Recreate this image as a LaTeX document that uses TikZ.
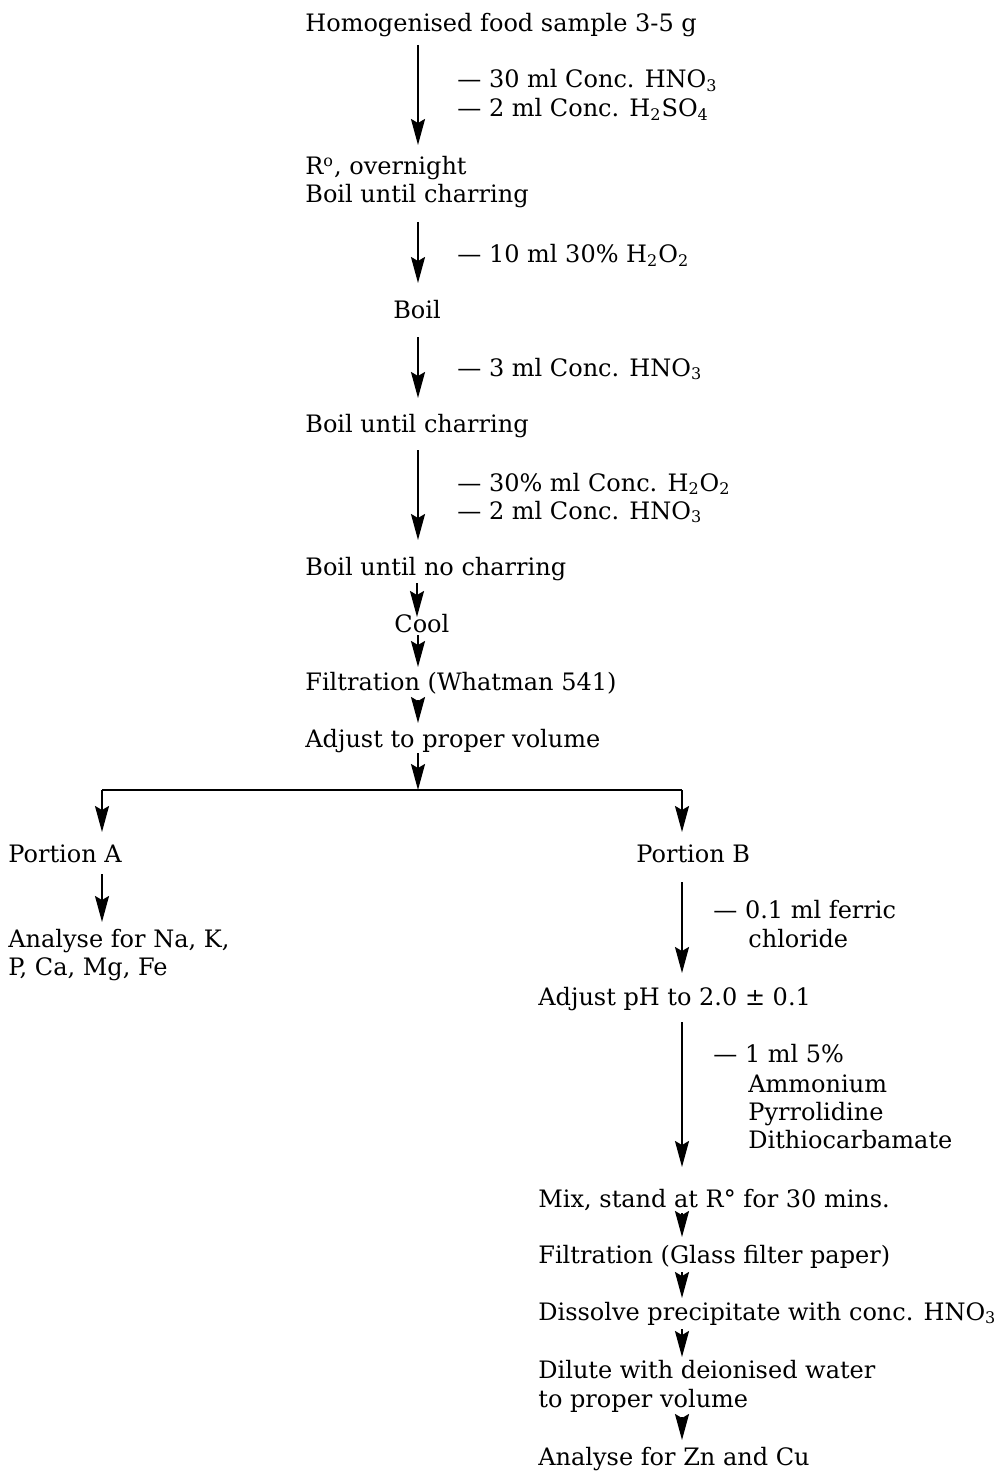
\documentclass[tikz,border=0pt]{standalone}
\usepackage{fontspec}
\setmainfont{DejaVu Serif}
\usetikzlibrary{arrows.meta,calc}

\tikzset{
  txt/.style={font=\fontsize{12}{14.3}\selectfont, inner sep=0pt, anchor=base west},
  ctxt/.style={txt, anchor=base},
  flow/.style={line width=1pt, -{Stealth[length=13pt,width=7pt,inset=2pt]}},
  plain/.style={line width=1.2pt},
}

\begin{document}
\begin{tikzpicture}[x=0.5pt,y=-0.5pt]
\useasboundingbox (0,0) rectangle (1000,1471);

% spines of the two columns
\coordinate (spine) at (418,0);
\coordinate (spineB) at (682,0);

% ---- digestion steps
\node[txt] (s1) at (305,32) {Homogenised food sample 3-5 g};
\node[txt] (l1a) at (457,88) {— 30 ml Conc. HNO\textsubscript{3}};
\node[txt] (l1b) at (457,117) {— 2 ml Conc. H\textsubscript{2}SO\textsubscript{4}};
\node[txt] (s2a) at (305,175) {R\textsuperscript{o}, overnight};
\node[txt] (s2b) at (305,203) {Boil until charring};
\node[txt] (l2) at (457,263) {— 10 ml 30\% H\textsubscript{2}O\textsubscript{2}};
\node[ctxt] (s3) at (417,318) {Boil};
\node[txt] (l3) at (457,376) {— 3 ml Conc. HNO\textsubscript{3}};
\node[txt] (s4) at (305,432) {Boil until charring};
\node[txt] (l4a) at (457,491) {— 30\% ml Conc. H\textsubscript{2}O\textsubscript{2}};
\node[txt] (l4b) at (457,519) {— 2 ml Conc. HNO\textsubscript{3}};
\node[txt] (s5) at (305,575) {Boil until no charring};
\node[txt] (s6) at (394,632) {Cool};
\node[txt] (s7) at (305,690) {Filtration (Whatman 541)};
\node[txt] (s8) at (305,747) {Adjust to proper volume};

\draw[flow] ($(s1.base -| spine)+(0,13)$) -- ($(s2a.base -| spine)+(0,-30)$);
\draw[flow] ($(s2b.base -| spine)+(0,19)$) -- ($(s3.base -| spine)+(0,-35)$);
\draw[flow] ($(s3.base -| spine)+(0,19)$) -- ($(s4.base -| spine)+(0,-34)$);
\draw[flow] ($(s4.base -| spine)+(0,18)$) -- ($(s5.base -| spine)+(0,-35)$);
\draw[flow] ($(s5.base -| spine)+(-1,8)$) -- ($(s6.base -| spine)+(-1,-15)$);
\draw[flow] ($(s6.base -| spine)+(0,3)$) -- ($(s7.base -| spine)+(0,-23)$);
\draw[flow] ($(s7.base -| spine)+(0,10)$) -- ($(s8.base -| spine)+(0,-24)$);

% ---- split into two portions
\coordinate (fork) at (418,790);
\coordinate (brA) at (102,790);
\coordinate (brB) at (682,790);
\draw[flow] ($(s8.base -| fork)+(0,6)$) -- (fork);
\draw[plain] (brA) -- (brB);

\node[txt] (pa) at (8,862) {Portion A};
\node[txt] (pb) at (636,862) {Portion B};
\draw[flow] (brA) -- ($(pa.base -| brA)+(0,-30)$);
\draw[flow] (brB) -- ($(pb.base -| brB)+(0,-30)$);

% ---- portion A
\node[txt] (aa1) at (8,947) {Analyse for Na, K,};
\node[txt] (aa2) at (8,975) {P, Ca, Mg, Fe};
\draw[flow] ($(pa.base -| brA)+(0,12)$) -- ($(aa1.base -| brA)+(0,-25)$);

% ---- portion B
\node[txt] (lb1) at (713,918) {— 0.1 ml ferric};
\node[txt] (lb2) at (748,947) {chloride};
\node[txt] (ph) at (538,1005) {Adjust pH to 2.0 ± 0.1};
\draw[flow] ($(pb.base -| spineB)+(0,20)$) -- ($(ph.base -| spineB)+(0,-32)$);

\node[txt] (lc1) at (713,1062) {— 1 ml 5\%};
\node[txt] (lc2) at (748,1092) {Ammonium};
\node[txt] (lc3) at (748,1120) {Pyrrolidine};
\node[txt] (lc4) at (748,1148) {Dithiocarbamate};
\node[txt] (mx) at (538,1207) {Mix, stand at R° for 30 mins.};
\draw[flow] ($(ph.base -| spineB)+(0,17)$) -- ($(mx.base -| spineB)+(0,-40)$);

\node[txt] (fg) at (538,1263) {Filtration (Glass filter paper)};
\node[txt] (ds) at (538,1320) {Dissolve precipitate with conc. HNO\textsubscript{3}};
\node[txt] (dl1) at (538,1378) {Dilute with deionised water};
\node[txt] (dl2) at (538,1407) {to proper volume};
\node[txt] (az) at (538,1465) {Analyse for Zn and Cu};

\draw[flow] ($(mx.base -| spineB)+(0,6)$) -- ($(fg.base -| spineB)+(0,-26)$);
\draw[flow] ($(fg.base -| spineB)+(0,9)$) -- ($(ds.base -| spineB)+(0,-22)$);
\draw[flow] ($(ds.base -| spineB)+(0,9)$) -- ($(dl1.base -| spineB)+(0,-21)$);
\draw[flow] ($(dl2.base -| spineB)+(0,10)$) -- ($(az.base -| spineB)+(0,-25)$);
\end{tikzpicture}
\end{document}
